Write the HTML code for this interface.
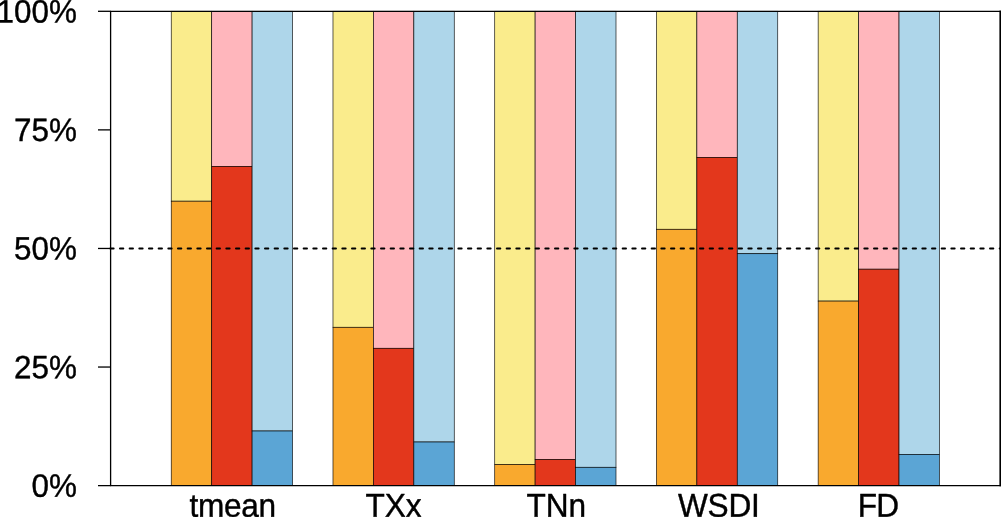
<!DOCTYPE html>
<html lang="en"><head><meta charset="utf-8"><title>chart</title>
<style>html,body{margin:0;padding:0;background:#fff;overflow:hidden}svg{display:block;will-change:transform;transform:translateZ(0)}text{font-family:"Liberation Sans",Arial,Helvetica,sans-serif;font-size:31.6px;fill:#000;text-rendering:geometricPrecision;stroke:#000;stroke-width:0.4px;stroke-linejoin:round}</style></head><body>
<svg width="1001" height="517" viewBox="0 0 1001 517">
<rect width="1001" height="517" fill="#fff"/>
<g stroke="#000" stroke-opacity="0.9" stroke-width="0.7">
<rect x="171.25" y="11.30" width="40.43" height="189.90" fill="#FAEC8C"/>
<rect x="171.25" y="201.20" width="40.43" height="284.42" fill="#F9A92E"/>
<rect x="211.68" y="11.30" width="40.43" height="155.10" fill="#FFB6BC"/>
<rect x="211.68" y="166.40" width="40.43" height="319.22" fill="#E3371C"/>
<rect x="252.11" y="11.30" width="40.43" height="419.70" fill="#AED6EA"/>
<rect x="252.11" y="431.00" width="40.43" height="54.62" fill="#5BA5D5"/>
<rect x="332.98" y="11.30" width="40.43" height="316.00" fill="#FAEC8C"/>
<rect x="332.98" y="327.30" width="40.43" height="158.32" fill="#F9A92E"/>
<rect x="373.41" y="11.30" width="40.43" height="337.00" fill="#FFB6BC"/>
<rect x="373.41" y="348.30" width="40.43" height="137.32" fill="#E3371C"/>
<rect x="413.84" y="11.30" width="40.43" height="430.70" fill="#AED6EA"/>
<rect x="413.84" y="442.00" width="40.43" height="43.62" fill="#5BA5D5"/>
<rect x="494.70" y="11.30" width="40.43" height="453.20" fill="#FAEC8C"/>
<rect x="494.70" y="464.50" width="40.43" height="21.12" fill="#F9A92E"/>
<rect x="535.13" y="11.30" width="40.43" height="448.20" fill="#FFB6BC"/>
<rect x="535.13" y="459.50" width="40.43" height="26.12" fill="#E3371C"/>
<rect x="575.57" y="11.30" width="40.43" height="456.00" fill="#AED6EA"/>
<rect x="575.57" y="467.30" width="40.43" height="18.32" fill="#5BA5D5"/>
<rect x="656.43" y="11.30" width="40.43" height="218.00" fill="#FAEC8C"/>
<rect x="656.43" y="229.30" width="40.43" height="256.32" fill="#F9A92E"/>
<rect x="696.86" y="11.30" width="40.43" height="146.10" fill="#FFB6BC"/>
<rect x="696.86" y="157.40" width="40.43" height="328.22" fill="#E3371C"/>
<rect x="737.29" y="11.30" width="40.43" height="242.40" fill="#AED6EA"/>
<rect x="737.29" y="253.70" width="40.43" height="231.92" fill="#5BA5D5"/>
<rect x="818.16" y="11.30" width="40.43" height="289.80" fill="#FAEC8C"/>
<rect x="818.16" y="301.10" width="40.43" height="184.52" fill="#F9A92E"/>
<rect x="858.59" y="11.30" width="40.43" height="257.90" fill="#FFB6BC"/>
<rect x="858.59" y="269.20" width="40.43" height="216.42" fill="#E3371C"/>
<rect x="899.02" y="11.30" width="40.43" height="443.10" fill="#AED6EA"/>
<rect x="899.02" y="454.40" width="40.43" height="31.22" fill="#5BA5D5"/>
</g>
<line x1="110.28" y1="248.46" x2="1001" y2="248.46" stroke="#000" stroke-width="1.9" stroke-linecap="round" stroke-dasharray="3.4 6.267"/>
<g stroke="#000" stroke-width="1.3" fill="none" stroke-linecap="butt">
<path d="M1001 11.30 H110.60 V485.62 H1001"/>
<rect x="999.4" y="10.65" width="2" height="475.62" fill="#000" stroke="none"/>
<line x1="98" y1="485.62" x2="110.60" y2="485.62"/>
<line x1="98" y1="367.04" x2="110.60" y2="367.04"/>
<line x1="98" y1="248.46" x2="110.60" y2="248.46"/>
<line x1="98" y1="129.88" x2="110.60" y2="129.88"/>
<line x1="98" y1="11.30" x2="110.60" y2="11.30"/>
</g>
<text transform="translate(76.9 496.74) rotate(0.03) scale(0.994 1.025)" text-anchor="end">0%</text>
<text transform="translate(76.9 378.16) rotate(0.03) scale(0.994 1.025)" text-anchor="end">25%</text>
<text transform="translate(76.9 259.58) rotate(0.03) scale(0.994 1.025)" text-anchor="end">50%</text>
<text transform="translate(76.9 141.00) rotate(0.03) scale(0.994 1.025)" text-anchor="end">75%</text>
<text transform="translate(76.9 22.42) rotate(0.03) scale(0.994 1.025)" text-anchor="end">100%</text>
<text transform="translate(232.57 516.8) rotate(0.03) scale(1 1.045)" text-anchor="middle" letter-spacing="-0.35">tmean</text>
<text transform="translate(393.57 516.8) rotate(0.03) scale(1 1.045)" text-anchor="middle" letter-spacing="0.0">TXx</text>
<text transform="translate(556.35 516.8) rotate(0.03) scale(1 1.045)" text-anchor="middle" letter-spacing="0.0">TNn</text>
<text transform="translate(718.73 516.8) rotate(0.03) scale(1 1.045)" text-anchor="middle" letter-spacing="-0.2">WSDI</text>
<text transform="translate(877.95 516.8) rotate(0.03) scale(1 1.045)" text-anchor="middle" letter-spacing="-0.9">FD</text>
</svg></body></html>
